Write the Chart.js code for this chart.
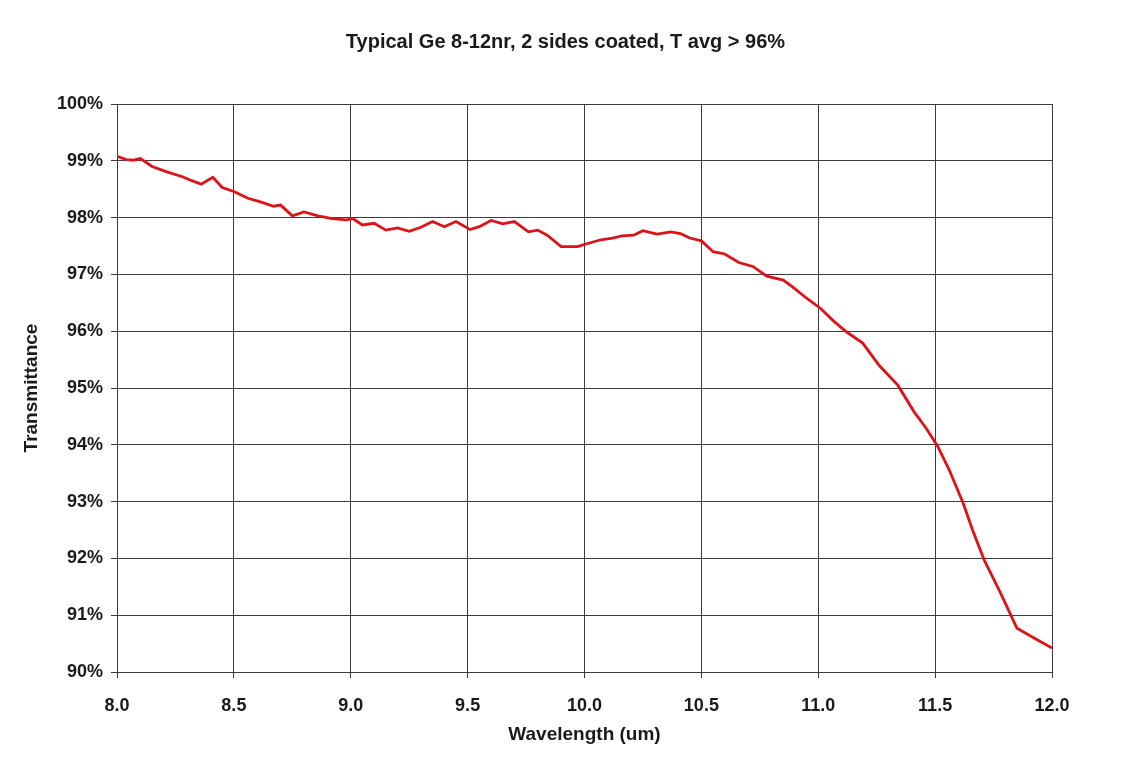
<!DOCTYPE html>
<html>
<head>
<meta charset="utf-8">
<script src="https://cdn.jsdelivr.net/npm/chart.js@4/dist/chart.umd.min.js"></script>
<style>
  html, body { margin: 0; padding: 0; background: #fff; }
  #wrap { width: 1131px; height: 758px; }
</style>
</head>
<body>
<div id="wrap"><canvas id="spectrum"></canvas></div>
<script>
// wavelength (um) and transmittance (%)
const wavelength = [8.00, 8.04, 8.07, 8.10, 8.15, 8.21, 8.28, 8.32, 8.36, 8.41, 8.45, 8.50, 8.56, 8.61, 8.67, 8.70, 8.75, 8.80, 8.86, 8.92, 8.98, 9.01, 9.05, 9.10, 9.15, 9.20, 9.25, 9.30, 9.35, 9.40, 9.45, 9.51, 9.55, 9.60, 9.65, 9.70, 9.76, 9.80, 9.84, 9.90, 9.97, 10.01, 10.07, 10.12, 10.16, 10.21, 10.25, 10.31, 10.37, 10.41, 10.45, 10.50, 10.55, 10.60, 10.66, 10.72, 10.78, 10.85, 10.89, 10.95, 11.01, 11.06, 11.12, 11.19, 11.26, 11.34, 11.41, 11.46, 11.51, 11.56, 11.62, 11.66, 11.71, 11.78, 11.85, 11.94, 12.00];
const transmittance = [99.08, 99.02, 99.01, 99.04, 98.90, 98.81, 98.72, 98.65, 98.59, 98.71, 98.53, 98.46, 98.34, 98.28, 98.20, 98.22, 98.03, 98.10, 98.03, 97.98, 97.96, 97.98, 97.87, 97.90, 97.78, 97.82, 97.76, 97.83, 97.93, 97.84, 97.93, 97.79, 97.84, 97.95, 97.89, 97.93, 97.75, 97.78, 97.69, 97.49, 97.49, 97.54, 97.61, 97.64, 97.68, 97.69, 97.77, 97.71, 97.75, 97.72, 97.64, 97.59, 97.40, 97.36, 97.21, 97.14, 96.97, 96.90, 96.78, 96.58, 96.40, 96.20, 95.99, 95.79, 95.40, 95.05, 94.58, 94.30, 93.98, 93.56, 92.97, 92.50, 91.97, 91.39, 90.77, 90.56, 90.42];
const xTicks = [8.0, 8.5, 9.0, 9.5, 10.0, 10.5, 11.0, 11.5, 12.0];
const yTicks = [90, 91, 92, 93, 94, 95, 96, 97, 98, 99, 100];

const family = "'Liberation Sans', Arial, sans-serif";
const tickFont = { family: family, size: 18, weight: "bold" };
const labelFont = { family: family, size: 19, weight: "bold" };
const ink = "#1a1a1a";
const gridColor = "#3c3c3c";

new Chart(document.getElementById("spectrum"), {
    type: "line",
    data: {
        datasets: [
            {
                label: "Transmittance",
                data: wavelength.map((w, i) => ({ x: w, y: transmittance[i] })),
                borderColor: "#dc1419",
                borderWidth: 2.8,
                pointRadius: 0,
                tension: 0,
                fill: false,
            },
        ],
    },
    options: {
        responsive: true,
        maintainAspectRatio: false,
        animation: false,
        layout: { padding: { left: 0, right: 0, top: 0, bottom: 12 } },
        plugins: {
            legend: { display: false },
            tooltip: { enabled: false },
            title: {
                display: true,
                text: "Typical Ge 8-12nr, 2 sides coated, T avg > 96%",
                color: ink,
                font: { family: family, size: 20, weight: "bold" },
                padding: { top: 30, bottom: 50 },
            },
        },
        scales: {
            x: {
                type: "linear",
                min: 8,
                max: 12,
                afterBuildTicks: (scale) => {
                    scale.ticks = xTicks.map((v) => ({ value: v }));
                },
                ticks: {
                    color: ink,
                    font: tickFont,
                    padding: 17,
                    maxRotation: 0,
                    callback: (v) => Number(v).toFixed(1),
                },
                grid: { color: gridColor, lineWidth: 1, tickLength: 6, tickColor: gridColor },
                border: { color: gridColor, width: 1 },
                title: { display: true, text: "Wavelength (um)", color: ink, font: labelFont, padding: { top: 0, bottom: 0 } },
                afterFit: (scale) => {
                    scale.height = 74;
                },
            },
            y: {
                min: 90,
                max: 100,
                afterBuildTicks: (scale) => {
                    scale.ticks = yTicks.map((v) => ({ value: v }));
                },
                ticks: {
                    color: ink,
                    font: tickFont,
                    padding: 8,
                    callback: (v) => v + "%",
                },
                grid: { color: gridColor, lineWidth: 1, tickLength: 6, tickColor: gridColor },
                border: { color: gridColor, width: 1 },
                title: { display: true, text: "Transmittance", color: ink, font: labelFont, padding: { top: 20, bottom: 0 } },
                afterFit: (scale) => {
                    scale.width = 117;
                },
            },
            // empty right margin so the title centres on the whole page
            margin: {
                position: "right",
                display: true,
                grid: { display: false },
                border: { display: false },
                ticks: { display: false },
                afterFit: (scale) => {
                    scale.width = 79;
                },
            },
        },
    },
});
</script>
</body>
</html>
